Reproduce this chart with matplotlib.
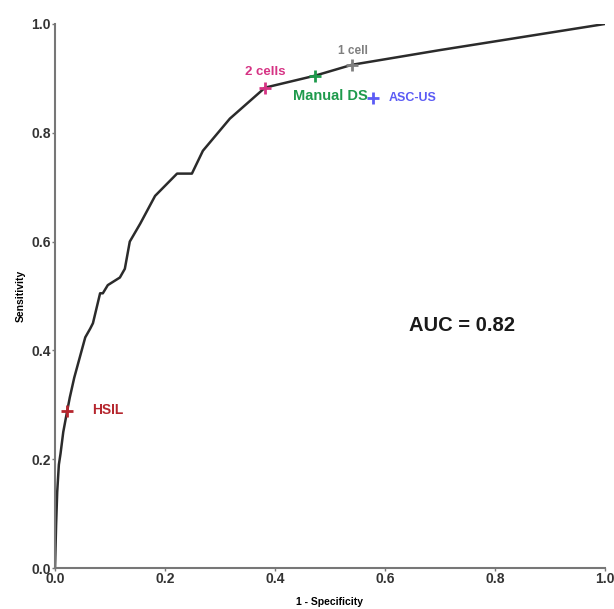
import matplotlib.pyplot as plt

plt.rcParams['font.family'] = ['Liberation Sans', 'DejaVu Sans']

# ROC curve points
fpr = [0.0, 0.002, 0.004, 0.007, 0.010, 0.015, 0.022, 0.027, 0.035, 0.045, 0.055,
       0.064, 0.069, 0.082, 0.087, 0.096, 0.118, 0.127, 0.136, 0.155, 0.182,
       0.222, 0.249, 0.269, 0.318, 0.382, 0.473, 0.540, 0.700, 0.850, 1.0]
tpr = [0.0, 0.08, 0.14, 0.19, 0.21, 0.25, 0.288, 0.314, 0.35, 0.387, 0.424,
       0.44, 0.45, 0.505, 0.505, 0.52, 0.534, 0.55, 0.60, 0.633, 0.684,
       0.725, 0.725, 0.767, 0.826, 0.883, 0.905, 0.925, 0.952, 0.976, 1.0]

# operating points
pt_names = ['HSIL', '2 cells', 'Manual DS', '1 cell', 'ASC-US']
pt_x = [0.022, 0.382, 0.473, 0.540, 0.578]
pt_y = [0.288, 0.883, 0.905, 0.925, 0.864]
pt_colors = ['#b5262e', '#d63384', '#1e9a4c', '#7f7f7f', '#5b5bf5']

ticks = [0.0, 0.2, 0.4, 0.6, 0.8, 1.0]
auc = 0.82

fig = plt.figure(figsize=(6.14, 6.09), dpi=100)
ax = fig.add_axes([0.0896, 0.0673, 0.8954, 0.8933])

ax.plot(fpr, tpr, color='#2b2b2b', linewidth=1.8, zorder=2)
for x, y, c in zip(pt_x, pt_y, pt_colors):
    ax.plot(x, y, marker='+', color=c, markersize=9, markeredgewidth=2, zorder=3)

# labels next to points
ax.text(pt_x[0] + 0.045, pt_y[0] + 0.002, 'HSIL', color=pt_colors[0],
        fontsize=10, fontweight='bold', va='center', ha='left')
ax.text(pt_x[1], pt_y[1] + 0.028, '2 cells', color=pt_colors[1],
        fontsize=9.5, fontweight='bold', va='center', ha='center')
ax.text(0.568, 0.867, 'Manual DS', color=pt_colors[2],
        fontsize=10.5, fontweight='bold', va='center', ha='right')
ax.text(pt_x[3] + 0.002, pt_y[3] + 0.026, '1 cell', color=pt_colors[3],
        fontsize=8.5, fontweight='bold', va='center', ha='center')
ax.text(0.607, 0.864, 'ASC-US', color=pt_colors[4],
        fontsize=9, fontweight='bold', va='center', ha='left')

ax.text(0.643, 0.446, 'AUC = %.2f' % auc, fontsize=14.5, fontweight='bold',
        color='#1a1a1a', va='center', ha='left')

ax.set_xlim(0, 1)
ax.set_ylim(0, 1)
ax.set_xticks(ticks)
ax.set_yticks(ticks)
ax.set_xticklabels(['%.1f' % t for t in ticks], fontsize=10, fontweight='bold', color='#333333')
ax.set_yticklabels(['%.1f' % t for t in ticks], fontsize=10, fontweight='bold', color='#333333')
ax.tick_params(length=2, width=1, color='#777777', pad=1)

ax.set_xlabel('1 - Specificity', fontsize=7.5, fontweight='bold', labelpad=8)
ax.set_ylabel('Sensitivity', fontsize=7.5, fontweight='bold', labelpad=4)

for side in ['top', 'right']:
    ax.spines[side].set_visible(False)
for side in ['left', 'bottom']:
    ax.spines[side].set_color('#777777')
    ax.spines[side].set_linewidth(1.5)

fig.savefig('out.png', dpi=100)
